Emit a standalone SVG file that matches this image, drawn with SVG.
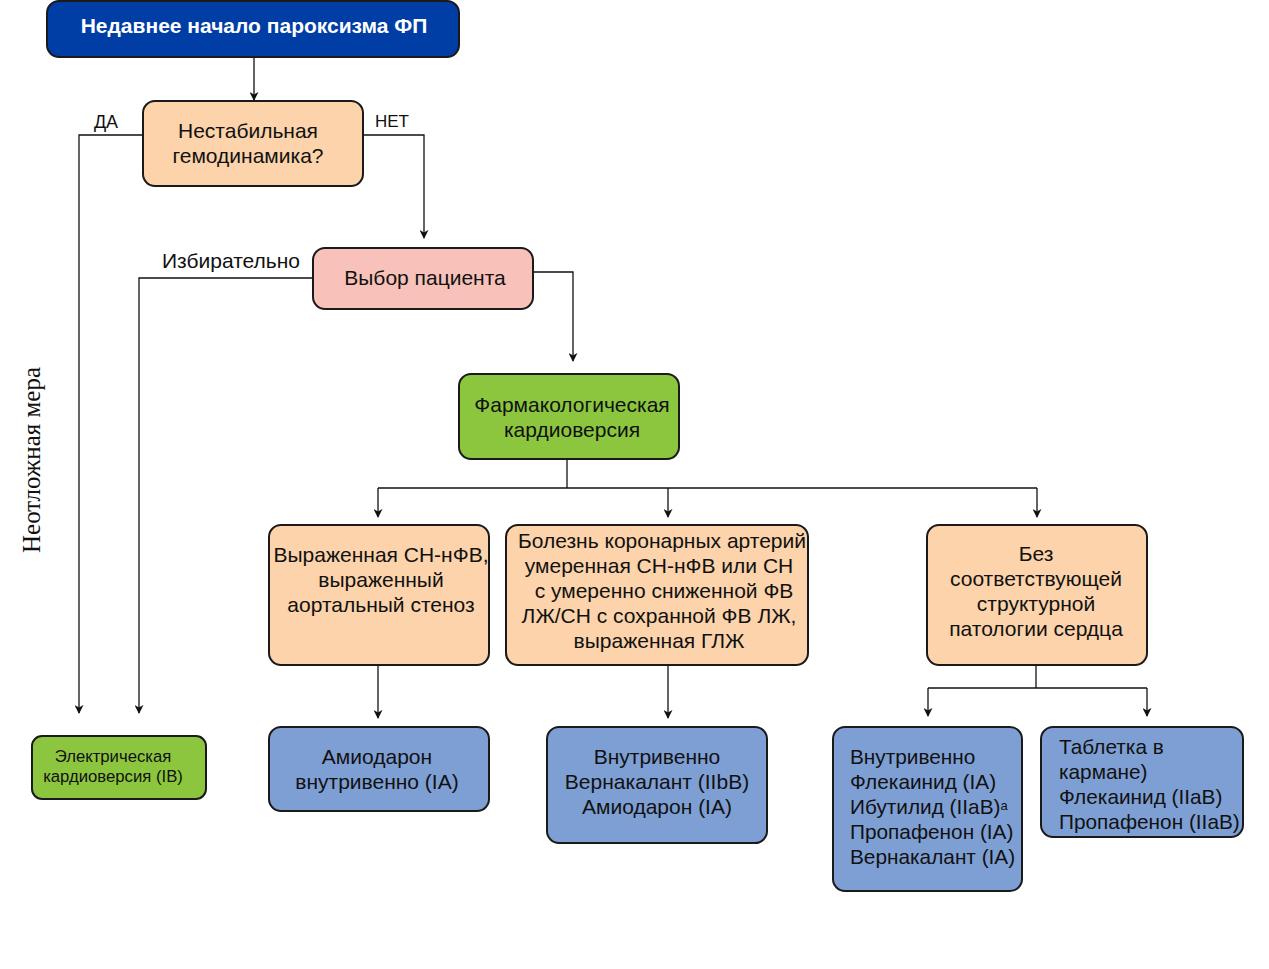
<svg xmlns="http://www.w3.org/2000/svg" width="1269" height="969" viewBox="0 0 1269 969">
<defs>
<style>
text{font-family:"Liberation Sans",Arial,sans-serif;font-size:21px;fill:#111;}
.box{stroke:#1a1a1a;stroke-width:2;}
.peach{fill:#FCD3AA;}
.pink{fill:#F8C1BA;}
.green{fill:#8CC63F;}
.blue{fill:#7E9FD4;}
.c{text-anchor:middle;}
.lbl{font-size:17px;}
.con{fill:none;stroke:#111;stroke-width:1.3;}
</style>
<marker id="ah" viewBox="0 0 10 10" refX="9" refY="5" markerWidth="9" markerHeight="9" markerUnits="userSpaceOnUse" orient="auto">
<path d="M0,0 L10,5 L0,10 L3,5 z" fill="#111"/>
</marker>
</defs>
<rect width="1269" height="969" fill="#fff"/>

<g id="connectors">
<path class="con" d="M254,57 V100" marker-end="url(#ah)"/>
<path class="con" d="M143,135 H79 V713" marker-end="url(#ah)"/>
<path class="con" d="M363,135 H424 V238" marker-end="url(#ah)"/>
<path class="con" d="M313,278 H139 V713" marker-end="url(#ah)"/>
<path class="con" d="M533,272 H573 V361" marker-end="url(#ah)"/>
<path class="con" d="M567,459 V488"/>
<path class="con" d="M378,488 H1037"/>
<path class="con" d="M378,488 V517" marker-end="url(#ah)"/>
<path class="con" d="M668,488 V517" marker-end="url(#ah)"/>
<path class="con" d="M1037,488 V517" marker-end="url(#ah)"/>
<path class="con" d="M378,665 V718" marker-end="url(#ah)"/>
<path class="con" d="M668,665 V718" marker-end="url(#ah)"/>
<path class="con" d="M1036,665 V688"/>
<path class="con" d="M928,688 H1147"/>
<path class="con" d="M928,688 V716" marker-end="url(#ah)"/>
<path class="con" d="M1147,688 V716" marker-end="url(#ah)"/>
<text class="lbl" x="106" y="128" text-anchor="middle" style="font-size:18px;">ДА</text>
<text class="lbl" x="392" y="127" text-anchor="middle">НЕТ</text>
<text x="231" y="268" text-anchor="middle">Избирательно</text>
</g>

<text transform="translate(40,460) rotate(-90)" text-anchor="middle" style="font-family:'Liberation Serif','Times New Roman',serif;font-size:25px;">Неотложная мера</text>

<g id="n-start">
<rect class="box" x="47" y="1" width="412" height="56" rx="12" fill="#003DA5"/>
<text class="c" x="254" y="33" style="fill:#fff;font-weight:bold;">Недавнее начало пароксизма ФП</text>
</g>

<g id="n-unstable">
<rect class="box peach" x="143" y="101" width="220" height="85" rx="12"/>
<text class="c" x="248" y="138">Нестабильная</text>
<text class="c" x="248" y="163">гемодинамика?</text>
</g>

<g id="n-choice">
<rect class="box pink" x="313" y="248" width="220" height="61" rx="12"/>
<text class="c" x="425" y="285">Выбор пациента</text>
</g>

<g id="n-pharm">
<rect class="box green" x="459" y="374" width="220" height="85" rx="12"/>
<text class="c" x="572" y="412">Фармакологическая</text>
<text class="c" x="572" y="437">кардиоверсия</text>
</g>

<g id="n-hf">
<rect class="box peach" x="269" y="525" width="220" height="140" rx="12"/>
<text class="c" x="381" y="562">Выраженная СН-нФВ,</text>
<text class="c" x="381" y="587">выраженный</text>
<text class="c" x="381" y="612">аортальный стеноз</text>
</g>

<g id="n-cad">
<rect class="box peach" x="506" y="525" width="302" height="140" rx="12"/>
<text class="c" x="662" y="548">Болезнь коронарных артерий</text>
<text class="c" x="659" y="573">умеренная СН-нФВ или СН</text>
<text class="c" x="664" y="598">с умеренно сниженной ФВ</text>
<text class="c" x="659" y="623">ЛЖ/СН с сохранной ФВ ЛЖ,</text>
<text class="c" x="659" y="648">выраженная ГЛЖ</text>
</g>

<g id="n-none">
<rect class="box peach" x="927" y="525" width="220" height="140" rx="12"/>
<text class="c" x="1036" y="561">Без</text>
<text class="c" x="1036" y="586">соответствующей</text>
<text class="c" x="1036" y="611">структурной</text>
<text class="c" x="1036" y="636">патологии сердца</text>
</g>

<g id="n-electric">
<rect class="box green" x="32" y="736" width="174" height="63" rx="10"/>
<text class="c" x="113" y="762" style="font-size:16.7px;">Электрическая</text>
<text class="c" x="113" y="782" style="font-size:16.7px;">кардиоверсия (IB)</text>
</g>

<g id="n-amio">
<rect class="box blue" x="269" y="727" width="220" height="84" rx="12"/>
<text class="c" x="377" y="764">Амиодарон</text>
<text class="c" x="377" y="789">внутривенно (IA)</text>
</g>

<g id="n-vern">
<rect class="box blue" x="547" y="727" width="220" height="116" rx="12"/>
<text class="c" x="657" y="764">Внутривенно</text>
<text class="c" x="657" y="789">Вернакалант (IIbB)</text>
<text class="c" x="657" y="814">Амиодарон (IA)</text>
</g>

<g id="n-iv">
<rect class="box blue" x="833" y="727" width="189" height="164" rx="12"/>
<text x="850" y="764" style="font-size:20.8px;">Внутривенно</text>
<text x="850" y="789" style="font-size:20.8px;">Флекаинид (IA)</text>
<text x="850" y="814" style="font-size:20.8px;">Ибутилид (IIaB)<tspan style="font-size:13px;" dy="-4">a</tspan></text>
<text x="850" y="839" style="font-size:20.8px;">Пропафенон (IA)</text>
<text x="850" y="864" style="font-size:20.8px;">Вернакалант (IA)</text>
</g>

<g id="n-pill">
<rect class="box blue" x="1041" y="727" width="202" height="110" rx="12"/>
<text x="1059" y="754" style="font-size:20.8px;">Таблетка в</text>
<text x="1059" y="779" style="font-size:20.8px;">кармане)</text>
<text x="1059" y="804" style="font-size:20.8px;">Флекаинид (IIaB)</text>
<text x="1059" y="829" style="font-size:20.8px;">Пропафенон (IIaB)</text>
</g>
</svg>
